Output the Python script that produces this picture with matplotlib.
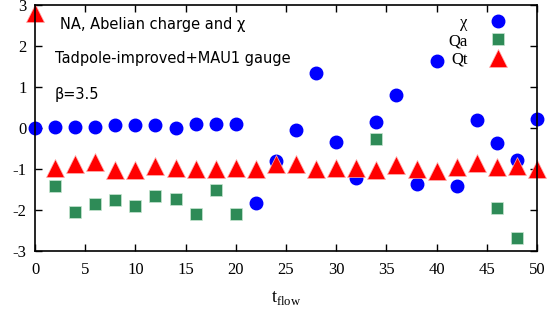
import matplotlib
matplotlib.use("Agg")
from matplotlib import pyplot as plt
import numpy as np

plt.rcParams['axes.unicode_minus'] = False
plt.rcParams['mathtext.fontset'] = 'custom'
plt.rcParams['mathtext.rm'] = 'Liberation Serif'

# chi, every even t_flow from 0 to 50
t_chi = np.arange(0, 51, 2)
chi = [0.0, 0.02, 0.03, 0.02, 0.07, 0.07, 0.07, 0.01, 0.1, 0.09, 0.1,
       -1.84, -0.8, -0.06, 1.33, -0.33, -1.23, 0.14, 0.8, -1.37, 1.63,
       -1.41, 0.19, -0.36, -0.78, 0.21]

# Abelian charge (only visible points)
t_qa = [2, 4, 6, 8, 10, 12, 14, 16, 18, 20, 34, 46, 48]
qa = [-1.41, -2.06, -1.86, -1.76, -1.91, -1.67, -1.74, -2.09, -1.51, -2.1,
      -0.27, -1.96, -2.69]

# topological charge
t_qt = np.arange(0, 51, 2)
qt = [2.8, -0.97, -0.87, -0.83, -1.02, -1.02, -0.92, -0.98, -0.99, -0.99, -0.98,
      -1.01, -0.88, -0.88, -1.0, -0.97, -0.98, -1.03, -0.9, -1.0, -1.05,
      -0.94, -0.86, -0.96, -0.92, -1.0]

fig = plt.figure(figsize=(5.54, 3.13), dpi=100)
ax = fig.add_axes([35/554, 1-251/313, 502/554, 246/313])

ax.plot(t_chi, chi, 'o', color='#0000ff', ms=9, mec='#0000ff', label='χ', clip_on=False)
ax.plot(t_qa, qa, 's', color='#2e8b57', ms=8.5, mec='#c8e6d2', mew=0.5, label='Qa', clip_on=False)
ax.plot(t_qt, qt, '^', color='#ff0000', ms=13, mec='#ffb0b0', mew=0.5, label='Qt', clip_on=False)

ax.set_xlim(0, 50)
ax.set_ylim(-3, 3)
ax.set_xticks(np.arange(0, 51, 5))
ax.set_yticks(np.arange(-3, 4, 1))
ax.tick_params(direction='in', length=5, width=1, top=True, right=True,
               labelsize=12, pad=6)
ax.tick_params(axis='x', pad=8)
for lab in ax.get_xticklabels() + ax.get_yticklabels():
    lab.set_fontfamily('Liberation Serif')
for s in ax.spines.values():
    s.set_linewidth(1.2)

ax.set_xlabel(r'$\mathrm{t}_{\mathrm{flow}}$', fontsize=13, labelpad=8)

ax.text(25/502, 1-20/246, 'NA, Abelian charge and χ', transform=ax.transAxes,
        fontsize=10.5, va='center', ha='left')
ax.text(20/502, 1-53/246, 'Tadpole-improved+MAU1 gauge', transform=ax.transAxes,
        fontsize=10.5, va='center', ha='left')
ax.text(20/502, 1-90/246, 'β=3.5', transform=ax.transAxes,
        fontsize=10.5, va='center', ha='left')

ax.legend(loc='upper right', bbox_to_anchor=(1.0 - 15/502, 1.0 + 2/246), markerfirst=False, frameon=False,
          prop={'family': 'Liberation Serif', 'size': 12}, labelspacing=0.15,
          handlelength=1.5, handletextpad=1.05, borderaxespad=0.3)

plt.savefig('out.png', dpi=100)
